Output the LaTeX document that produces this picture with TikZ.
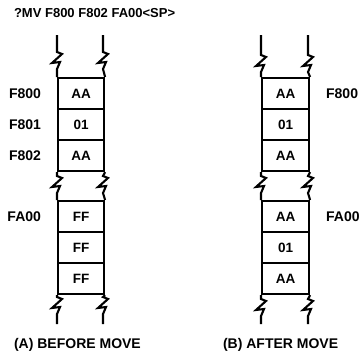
\documentclass[tikz,border=0pt]{standalone}
\usepackage{fontspec}
\setmainfont{Liberation Sans}
\begin{document}
\begin{tikzpicture}[x=1pt,y=-1pt,line width=2.1pt,
  cell/.style={draw,minimum width=46pt,minimum height=31pt,inner sep=0pt,anchor=north west,font=\bfseries\fontsize{13.5}{13.5}\selectfont},
  cellr/.style={cell,minimum width=47pt},
  lbl/.style={inner sep=0pt,font=\bfseries\fontsize{14}{14}\selectfont},
  zz/.style={insert path={-- ++(5,2) -- ++(-10,9) -- ++(8,-1) -- ++(-3,7)}}]
\useasboundingbox (0,0) rectangle (360,354);
\node[lbl,anchor=west,font=\bfseries\fontsize{13}{13}\selectfont] (cmd) at (13,13) {?MV F800 F802 FA00<SP>};
% column A
\node[cell] (a1) at (57,77) {AA};
\node[cell] (a2) at (57,108) {01};
\node[cell] (a3) at (57,139) {AA};
\node[cell] (a4) at (57,200) {FF};
\node[cell] (a5) at (57,231) {FF};
\node[cell] (a6) at (57,262) {FF};
\coordinate (at1) at (57,35);
\coordinate (at2) at (103,35);
\coordinate (ab1) at (57,324);
\coordinate (ab2) at (103,324);
\draw (at1) -- (57,52) [zz] -- (a1.north west);
\draw (at2) -- (103,52) [zz] -- (a1.north east);
\draw (a3.south west) -- (57,176) [zz] -- (a4.north west);
\draw (a3.south east) -- (103,176) [zz] -- (a4.north east);
\draw (a6.south west) -- (57,297) [zz] -- (ab1);
\draw (a6.south east) -- (103,297) [zz] -- (ab2);
\node[lbl,anchor=east] (la1) at ([xshift=-15pt]a1.west) {F800};
\node[lbl,anchor=east] (la2) at ([xshift=-15pt]a2.west) {F801};
\node[lbl,anchor=east] (la3) at ([xshift=-15pt]a3.west) {F802};
\node[lbl,anchor=east] (la4) at ([xshift=-15pt]a4.west) {FA00};
\node[lbl,anchor=west] (capa) at (13,345) {(A) BEFORE MOVE};
% column B
\node[cellr] (b1) at (261,77) {AA};
\node[cellr] (b2) at (261,108) {01};
\node[cellr] (b3) at (261,139) {AA};
\node[cellr] (b4) at (261,200) {AA};
\node[cellr] (b5) at (261,231) {01};
\node[cellr] (b6) at (261,262) {AA};
\coordinate (bt1) at (261,35);
\coordinate (bt2) at (308,35);
\coordinate (bb1) at (261,324);
\coordinate (bb2) at (308,324);
\draw (bt1) -- (261,55) [zz] -- (b1.north west);
\draw (bt2) -- (308,55) [zz] -- (b1.north east);
\draw (b3.south west) -- (261,176) [zz] -- (b4.north west);
\draw (b3.south east) -- (308,176) [zz] -- (b4.north east);
\draw (b6.south west) -- (261,299) [zz] -- (bb1);
\draw (b6.south east) -- (308,299) [zz] -- (bb2);
\node[lbl,anchor=west] (lb1) at ([xshift=15pt]b1.east) {F800};
\node[lbl,anchor=west] (lb4) at ([xshift=15pt]b4.east) {FA00};
\node[lbl,anchor=west] (capb) at (222,345) {(B) AFTER MOVE};
\end{tikzpicture}
\end{document}
